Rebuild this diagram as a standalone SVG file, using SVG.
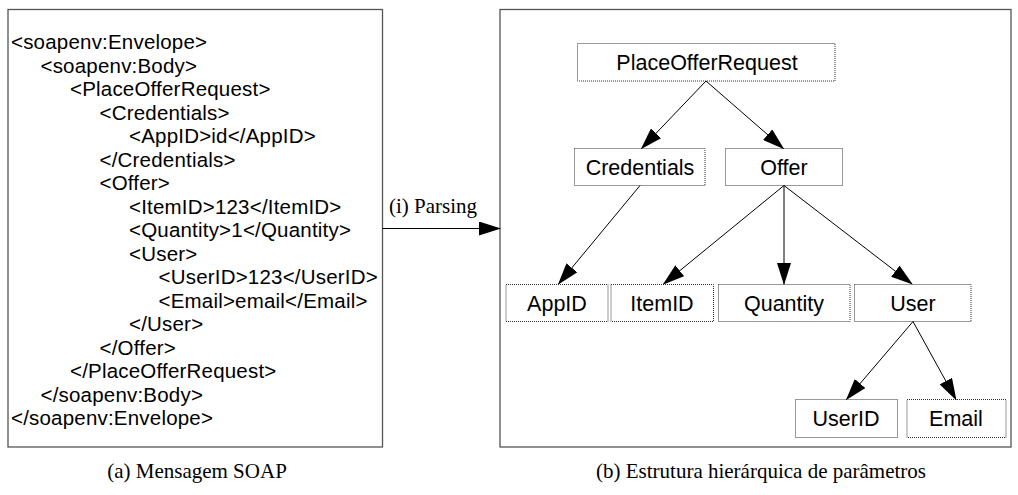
<svg xmlns="http://www.w3.org/2000/svg" width="1018" height="495" viewBox="0 0 1018 495">
  <style>
    .panel { fill: #fff; stroke: #555; stroke-width: 1.3; }
    .xml { font-family: "Liberation Sans", Arial, sans-serif; font-size: 20.5px; letter-spacing: 0.2px; fill: #000; }
    .node rect { fill: #fff; stroke: #333; stroke-width: 1; stroke-dasharray: 1 1; }
    .node text { font-family: "Liberation Sans", Arial, sans-serif; font-size: 21.5px; fill: #000; text-anchor: middle; }
    .cap { font-family: "Liberation Serif", "Times New Roman", serif; font-size: 21px; fill: #000; }
    .edge { stroke: #000; stroke-width: 1; fill: none; marker-end: url(#head); }
  </style>
  <defs>
    <marker id="head" markerUnits="userSpaceOnUse" markerWidth="22" markerHeight="14" refX="21" refY="7" orient="auto">
      <path d="M0,0 L22,7 L0,14 z" fill="#000"/>
    </marker>
  </defs>

  <rect fill="#fff" x="0" y="0" width="1018" height="495"/>

  <!-- (a) SOAP message panel -->
  <g id="soap-message">
    <rect class="panel" x="8" y="9.5" width="374.5" height="437.5"/>
    <g class="xml">
      <text x="11" y="49">&lt;soapenv:Envelope&gt;</text>
      <text x="40.5" y="72.5">&lt;soapenv:Body&gt;</text>
      <text x="70" y="96">&lt;PlaceOfferRequest&gt;</text>
      <text x="99.5" y="119.5">&lt;Credentials&gt;</text>
      <text x="129" y="143">&lt;AppID&gt;id&lt;/AppID&gt;</text>
      <text x="99.5" y="166.5">&lt;/Credentials&gt;</text>
      <text x="99.5" y="190">&lt;Offer&gt;</text>
      <text x="129" y="213.5">&lt;ItemID&gt;123&lt;/ItemID&gt;</text>
      <text x="129" y="237">&lt;Quantity&gt;1&lt;/Quantity&gt;</text>
      <text x="129" y="260.5">&lt;User&gt;</text>
      <text x="158.5" y="284">&lt;UserID&gt;123&lt;/UserID&gt;</text>
      <text x="158.5" y="307.5">&lt;Email&gt;email&lt;/Email&gt;</text>
      <text x="129" y="331">&lt;/User&gt;</text>
      <text x="99.5" y="354.5">&lt;/Offer&gt;</text>
      <text x="70" y="378">&lt;/PlaceOfferRequest&gt;</text>
      <text x="40.5" y="401.5">&lt;/soapenv:Body&gt;</text>
      <text x="11" y="425">&lt;/soapenv:Envelope&gt;</text>
    </g>
    <text class="cap" x="197" y="478" text-anchor="middle">(a) Mensagem SOAP</text>
  </g>

  <!-- (b) parameter tree panel -->
  <g id="tree-panel">
    <rect class="panel" x="500" y="9.5" width="511" height="437.5"/>
    <text class="cap" x="761" y="478" text-anchor="middle">(b) Estrutura hierárquica de parâmetros</text>
  </g>

  <g id="PlaceOfferRequest" class="node">
    <rect x="577.5" y="43.5" width="257.5" height="37.5"/>
    <text x="707" y="70">PlaceOfferRequest</text>
  </g>
  <g id="Credentials" class="node">
    <rect x="574.5" y="148.5" width="130.5" height="37"/>
    <text x="640" y="174.5">Credentials</text>
  </g>
  <g id="Offer" class="node">
    <rect x="725.5" y="148.5" width="117" height="37"/>
    <text x="784" y="174.5">Offer</text>
  </g>
  <g id="AppID" class="node">
    <rect x="506" y="284.5" width="102" height="37"/>
    <text x="557" y="310.5">AppID</text>
  </g>
  <g id="ItemID" class="node">
    <rect x="611" y="284.5" width="102.5" height="37"/>
    <text x="662" y="310.5">ItemID</text>
  </g>
  <g id="Quantity" class="node">
    <rect x="718.5" y="284.5" width="131.5" height="37"/>
    <text x="784" y="310.5">Quantity</text>
  </g>
  <g id="User" class="node">
    <rect x="854.5" y="284.5" width="116.5" height="37"/>
    <text x="913" y="310.5">User</text>
  </g>
  <g id="UserID" class="node">
    <rect x="795.5" y="399.5" width="102" height="38"/>
    <text x="846" y="426">UserID</text>
  </g>
  <g id="Email" class="node">
    <rect x="907" y="399.5" width="99" height="38"/>
    <text x="956" y="426">Email</text>
  </g>

  <!-- connectors -->
  <g id="connectors">
    <line class="edge" x1="382.5" y1="228.5" x2="500" y2="228.5"/>
    <line class="edge" x1="706" y1="81" x2="641.5" y2="148.5"/>
    <line class="edge" x1="706" y1="81" x2="783.5" y2="148.5"/>
    <line class="edge" x1="640" y1="185.5" x2="558.5" y2="284"/>
    <line class="edge" x1="784" y1="185.5" x2="663.5" y2="284"/>
    <line class="edge" x1="784" y1="185.5" x2="784" y2="284"/>
    <line class="edge" x1="784" y1="185.5" x2="912" y2="284"/>
    <line class="edge" x1="913" y1="321.5" x2="846.5" y2="399.5"/>
    <line class="edge" x1="913" y1="321.5" x2="956" y2="399.5"/>
  </g>
  <text class="cap" x="389" y="213">(i) Parsing</text>
</svg>
